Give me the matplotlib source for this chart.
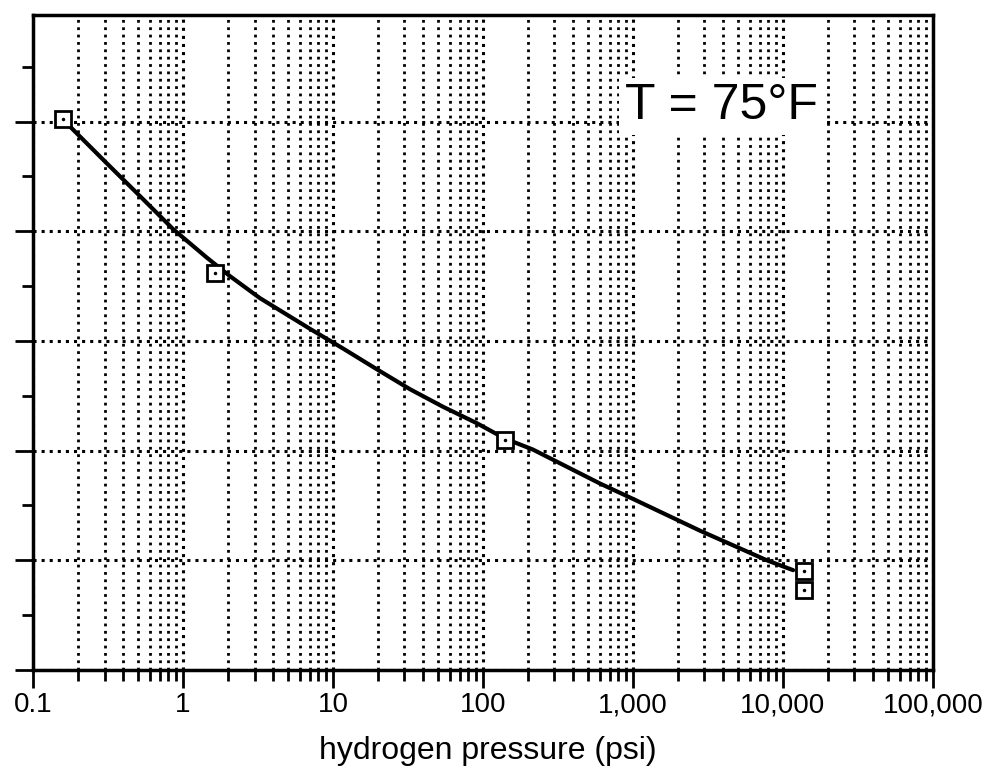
import matplotlib
matplotlib.use('Agg')
import matplotlib.pyplot as plt
from matplotlib.ticker import LogLocator, FixedLocator, NullFormatter, FixedFormatter

plt.rcParams['font.family'] = ['Liberation Sans', 'DejaVu Sans']

# measured data points (pressure in psi, y in grid units)
pressure = [0.158, 1.63, 140, 13800, 13800]
value = [5.02, 3.62, 2.10, 0.90, 0.73]

# smooth curve
curve_p = [0.158, 0.31, 0.517, 0.858, 1.44, 2.06, 3.26, 7.03, 11.7, 19.7,
           32.6, 54.1, 91, 140, 215, 603, 1000, 2800, 7820, 11700]
curve_v = [5.02, 4.62, 4.32, 4.02, 3.76, 3.59, 3.39, 3.11, 2.93, 2.74,
           2.56, 2.40, 2.25, 2.11, 2.01, 1.70, 1.56, 1.27, 1.00, 0.91]

xtick_vals = [0.1, 1, 10, 100, 1000, 10000, 100000]
xtick_labels = ['0.1', '1', '10', '100', '1,000', '10,000', '100,000']

fig = plt.figure(figsize=(9.9, 7.75), dpi=100)
ax = fig.add_axes([0.0333, 0.1355, 0.909, 0.845])

ax.plot(curve_p, curve_v, color='black', linewidth=3, zorder=4,
        solid_joinstyle='round', solid_capstyle='round')
ax.plot(pressure, value, linestyle='none', marker='s', markersize=11,
        markerfacecolor='white', markeredgecolor='black', markeredgewidth=2, zorder=5)
ax.plot(pressure, value, linestyle='none', marker='.', markersize=3,
        color='black', zorder=6)

ax.set_xscale('log')
ax.set_xlim(0.1, 100000)
ax.set_ylim(0, 5.97)

ax.xaxis.set_major_locator(FixedLocator(xtick_vals))
ax.xaxis.set_major_formatter(FixedFormatter(xtick_labels))
ax.xaxis.set_minor_locator(LogLocator(base=10, subs=range(2, 10), numticks=20))
ax.xaxis.set_minor_formatter(NullFormatter())
ax.yaxis.set_major_locator(FixedLocator([0, 1, 2, 3, 4, 5]))
ax.yaxis.set_minor_locator(FixedLocator([0.5, 1.5, 2.5, 3.5, 4.5, 5.5]))
ax.set_yticklabels([])

ax.tick_params(which='major', direction='out', length=13, width=2, labelsize=20, pad=3)
ax.tick_params(which='minor', direction='out', length=8, width=2)

ax.grid(True, which='major', axis='both', color='black', linestyle=':', linewidth=2.2)
ax.grid(True, which='minor', axis='x', color='black', linestyle=':', linewidth=2)
ax.set_axisbelow(True)

for s in ax.spines.values():
    s.set_linewidth(2.5)

ax.text(0.765, 0.861, 'T = 75°F', transform=ax.transAxes, ha='center', va='center',
        fontsize=36, zorder=7,
        bbox=dict(facecolor='white', edgecolor='none', pad=4))

fig.text(0.493, 0.012, 'hydrogen pressure (psi)', ha='center', va='bottom', fontsize=23)

plt.savefig('out.png', dpi=100)
